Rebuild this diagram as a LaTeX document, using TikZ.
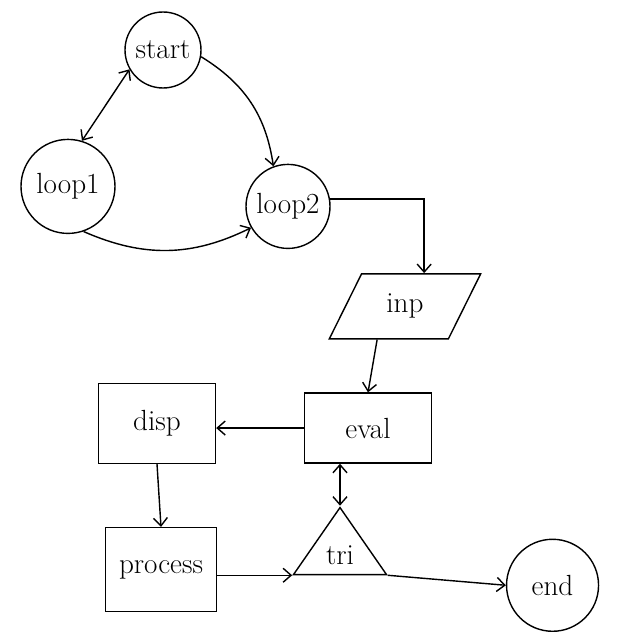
\documentclass[tikz,border=0pt]{standalone}
\usepackage{tikz}
\usetikzlibrary{shapes.geometric, arrows.meta, positioning, calc}

\begin{document}
\begin{tikzpicture}[
    node distance = 1.5cm and 2cm,
    state/.style = {circle, draw=black, line width=1pt, inner sep=0pt, font=\huge},
    box/.style = {rectangle, draw=black, line width=1pt, align=center, font=\huge},
    io/.style = {trapezium, trapezium left angle=63, trapezium right angle=117, trapezium stretches=true, draw=black, line width=1pt, font=\huge},
    decide/.style = {isosceles triangle, isosceles triangle stretches=true, shape border rotate=90, draw=black, line width=1pt, inner sep=0pt, font=\huge},
    flow/.style = {-{Straight Barb[length=2mm, width=3.5mm]}, line width=1pt},
    twoway/.style = {{Straight Barb[length=2mm, width=3.5mm]}-{Straight Barb[length=2mm, width=3.5mm]}, line width=1pt}
]
    \useasboundingbox (0,0) rectangle (16,-16);

    % 1. Loop states
    \node [state, minimum size=1.9cm] (start) at (4.075,-1.25) {start};
    \node [state, minimum size=2.35cm, below=1.25cm of start, xshift=-2.375cm] (loop1) {loop1};
    \node [state, minimum size=2.1cm, below=1.875cm of start, xshift=3.125cm] (loop2) {loop2};

    % 2. Flowchart part
    \node [io, minimum width=3.8cm, minimum height=1.625cm, below=0.6cm of loop2, xshift=2.925cm] (inp) {inp};
    \node [box, minimum width=3.175cm, minimum height=1.75cm, below=1.32cm of inp, xshift=-0.925cm] (eval) {eval};
    \node [box, minimum width=2.925cm, minimum height=2cm, left=2.19cm of eval, yshift=0.12cm] (disp) {disp};
    \node [box, minimum width=2.775cm, minimum height=2.1cm, below=1.575cm of disp, xshift=0.1cm] (process) {process};
    \node [decide, minimum width=2.325cm, minimum height=1.675cm, below=1.05cm of eval, xshift=-0.7cm] (tri) {tri};
    \node [state, minimum size=2.3cm, right=2.95cm of tri.right corner, yshift=-0.25cm] (end) {end};

    % 3. Connectors
    \draw [twoway] (start.210) -- (loop1.73);
    \draw [flow] (start.-10) to[bend left=25] (loop2.110);
    \draw [flow] (loop1.-71) to[bend right=25] (loop2.210);
    \draw [flow] (loop2.10) -| (inp.60);
    \draw [flow] (inp.230) -- (eval.north);
    \draw [flow] (eval.west) -- (disp.east |- eval.west);
    \draw [flow] (disp.south) -- (process.north);
    \draw [flow] (process.east |- tri.left corner) -- (tri.left corner);
    \draw [flow] (tri.right corner) -- (end.west);
    \draw [twoway] (tri.apex) -- (tri.apex |- eval.south);
\end{tikzpicture}
\end{document}
